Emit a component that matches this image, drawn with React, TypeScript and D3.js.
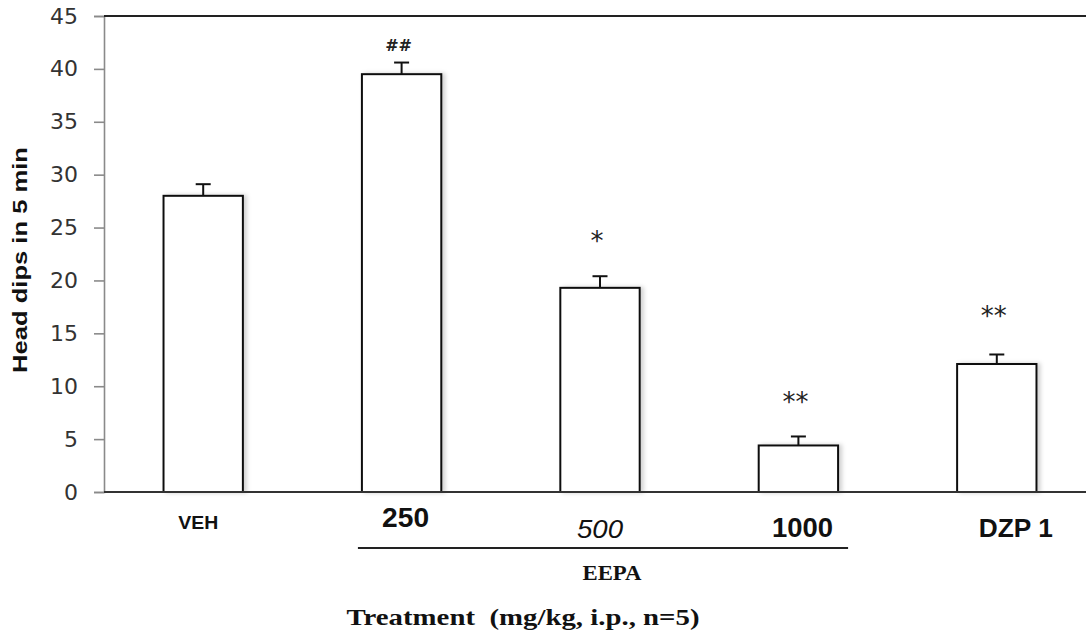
import { useEffect, useRef } from 'react';
import * as d3 from 'd3';

// data
const categories = ['VEH', '250', '500', '1000', 'DZP 1'];
const means = [28.0, 39.5, 19.3, 4.4, 12.1];
const sems = [1.1, 1.1, 1.1, 0.85, 0.9];
const sigLabels = ['', '##', '*', '**', '**'];
const sigLevels = [0, 42.3, 24.2, 9.0, 17.1];
const yTicks = [0, 5, 10, 15, 20, 25, 30, 35, 40, 45];

const W = 1086;
const H = 640;

export default function App() {
  const ref = useRef<SVGSVGElement | null>(null);

  useEffect(() => {
    const svg = d3.select(ref.current);
    svg.selectAll('*').remove();

    const left = 104;
    const top = 16;
    const bottom = 492;

    const x = d3
      .scaleBand<string>()
      .domain(categories)
      .range([left, 1096])
      .paddingInner(0.6)
      .paddingOuter(0.3);

    const y = d3.scaleLinear().domain([0, 45]).range([bottom, top]);

    const defs = svg.append('defs');
    const f = defs
      .append('filter')
      .attr('id', 'shadow')
      .attr('x', '-10%')
      .attr('y', '-10%')
      .attr('width', '130%')
      .attr('height', '120%');
    f.append('feDropShadow')
      .attr('dx', 3)
      .attr('dy', 0)
      .attr('stdDeviation', 2)
      .attr('flood-color', '#000')
      .attr('flood-opacity', 0.18);

    // y axis
    const yAxis = svg
      .append('g')
      .attr('transform', `translate(${left},0)`)
      .call(d3.axisLeft(y).tickValues(yTicks).tickSize(10).tickPadding(16));
    yAxis.select('.domain').attr('stroke', '#8a8a8a').attr('stroke-width', 1.6);
    yAxis.selectAll('.tick line').attr('stroke', '#8a8a8a').attr('stroke-width', 1.6);
    yAxis
      .selectAll('.tick text')
      .attr('font-family', 'DejaVu Sans, sans-serif')
      .attr('font-size', 22)
      .attr('fill', '#333');

    // top border line
    svg
      .append('line')
      .attr('x1', left)
      .attr('x2', W)
      .attr('y1', y(45))
      .attr('y2', y(45))
      .attr('stroke', '#222')
      .attr('stroke-width', 2);

    // bars
    svg
      .append('g')
      .selectAll('rect')
      .data(means)
      .join('rect')
      .attr('x', (_, i) => x(categories[i])!)
      .attr('y', d => y(d))
      .attr('width', x.bandwidth())
      .attr('height', d => y(0) - y(d))
      .attr('fill', '#fff')
      .attr('stroke', '#111')
      .attr('stroke-width', 2)
      .attr('filter', 'url(#shadow)');

    // error bars
    const eb = svg.append('g').attr('stroke', '#111').attr('stroke-width', 2);
    means.forEach((m, i) => {
      const cx = x(categories[i])! + x.bandwidth() / 2;
      eb.append('line')
        .attr('x1', cx)
        .attr('x2', cx)
        .attr('y1', y(m))
        .attr('y2', y(m + sems[i]));
      eb.append('line')
        .attr('x1', cx - 7.5)
        .attr('x2', cx + 7.5)
        .attr('y1', y(m + sems[i]))
        .attr('y2', y(m + sems[i]));
    });

    // x axis line
    svg
      .append('line')
      .attr('x1', left)
      .attr('x2', W)
      .attr('y1', y(0))
      .attr('y2', y(0))
      .attr('stroke', '#333')
      .attr('stroke-width', 2.2);

    // significance marks
    sigLabels.forEach((s, i) => {
      if (!s) return;
      const cx = x(categories[i])! + x.bandwidth() / 2;
      const hash = s.startsWith('#');
      svg
        .append('text')
        .attr('x', cx - 3)
        .attr('y', y(sigLevels[i]) + (hash ? 6 : 14))
        .attr('text-anchor', 'middle')
        .attr('font-family', 'DejaVu Sans, sans-serif')
        .attr('font-size', hash ? 16 : 26)
        .attr('font-weight', hash ? 'bold' : 'normal')
        .attr('fill', '#222')
        .text(s);
    });

    // category labels, each styled like the figure
    const labelStyle = [
      { dx: -5, base: 529, size: 18, weight: 'bold', italic: false, len: 40 },
      { dx: 4, base: 527, size: 27, weight: 'bold', italic: false, len: 47 },
      { dx: 0, base: 538, size: 25, weight: 'normal', italic: true, len: 46 },
      { dx: 4, base: 537, size: 27, weight: 'bold', italic: false, len: 61 },
      { dx: 19, base: 537, size: 26, weight: 'bold', italic: false, len: 74 },
    ];
    categories.forEach((c, i) => {
      const st = labelStyle[i];
      svg
        .append('text')
        .attr('x', x(c)! + x.bandwidth() / 2 + st.dx)
        .attr('y', st.base)
        .attr('text-anchor', 'middle')
        .attr('font-family', 'Liberation Sans, Arial, sans-serif')
        .attr('font-size', st.size)
        .attr('font-weight', st.weight)
        .attr('font-style', st.italic ? 'italic' : 'normal')
        .attr('textLength', st.len)
        .attr('lengthAdjust', 'spacingAndGlyphs')
        .attr('fill', '#111')
        .text(c);
    });

    // EEPA bracket
    const gx1 = x('250')! - 4;
    const gx2 = x('1000')! + x.bandwidth() + 10;
    svg
      .append('line')
      .attr('x1', gx1)
      .attr('x2', gx2)
      .attr('y1', 548)
      .attr('y2', 548)
      .attr('stroke', '#222')
      .attr('stroke-width', 2);
    svg
      .append('text')
      .attr('x', 612)
      .attr('y', 580)
      .attr('text-anchor', 'middle')
      .attr('font-family', 'Liberation Serif, Times New Roman, serif')
      .attr('font-weight', 'bold')
      .attr('font-size', 21)
      .attr('textLength', 59)
      .attr('lengthAdjust', 'spacingAndGlyphs')
      .attr('fill', '#111')
      .text('EEPA');

    // axis titles
    svg
      .append('text')
      .attr('x', 523)
      .attr('y', 625)
      .attr('text-anchor', 'middle')
      .attr('font-family', 'Liberation Serif, Times New Roman, serif')
      .attr('font-weight', 'bold')
      .attr('font-size', 23)
      .attr('textLength', 353)
      .attr('lengthAdjust', 'spacingAndGlyphs')
      .attr('fill', '#111')
      .style('white-space', 'pre')
      .text('Treatment  (mg/kg, i.p., n=5)');

    svg
      .append('text')
      .attr('transform', `translate(27,260) rotate(-90)`)
      .attr('text-anchor', 'middle')
      .attr('font-family', 'Liberation Sans, Arial, sans-serif')
      .attr('font-weight', 'bold')
      .attr('font-size', 21)
      .attr('textLength', 226)
      .attr('lengthAdjust', 'spacingAndGlyphs')
      .attr('fill', '#111')
      .text('Head dips in 5 min');
  }, []);

  return (
    <svg
      ref={ref}
      width={W}
      height={H}
      style={{ position: 'absolute', left: 0, top: 0, background: '#fff' }}
    ></svg>
  );
}
